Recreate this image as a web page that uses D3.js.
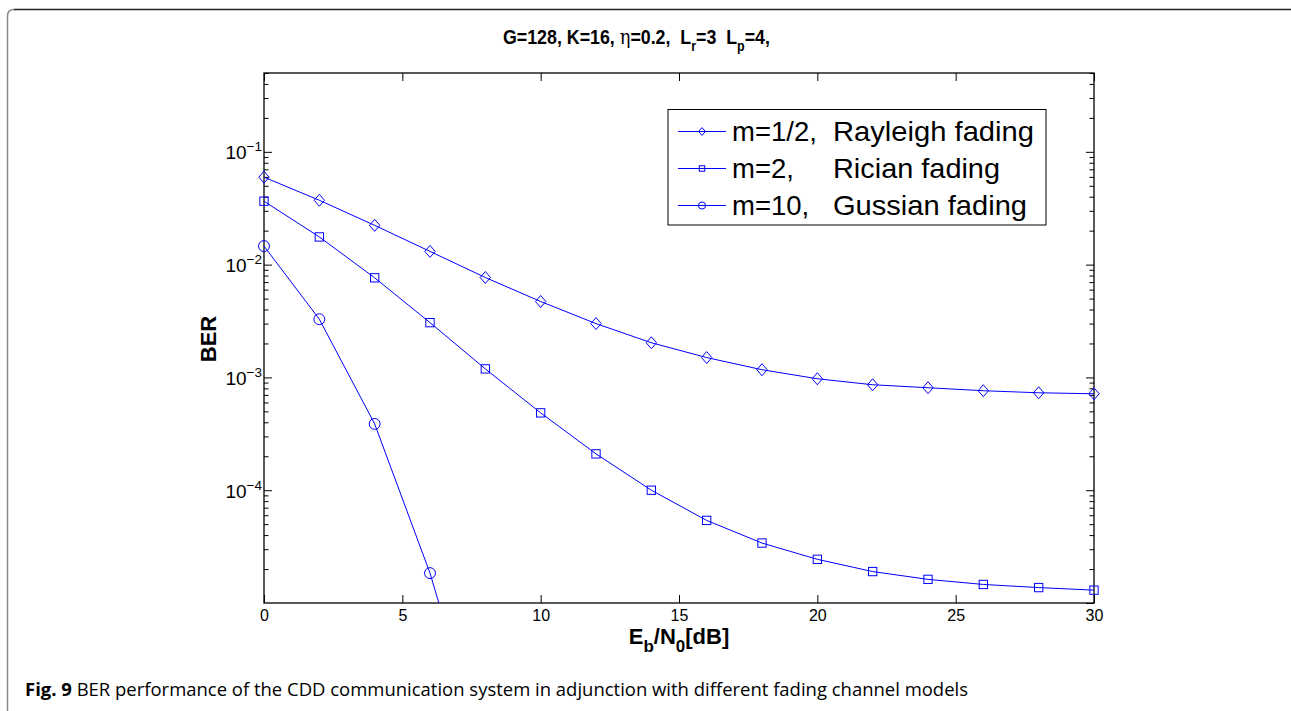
<!DOCTYPE html>
<html>
<head>
<meta charset="utf-8">
<title>BER vs Eb/N0</title>
<script src="https://cdn.jsdelivr.net/npm/d3@7/dist/d3.min.js"></script>
<style>
  body { margin: 0; background: #fff; }
  text { font-family: "Liberation Sans", Arial, Helvetica, sans-serif; }
</style>
</head>
<body>
<svg id="chart"></svg>
<script>
// data
const ebno = [0, 2, 4, 6, 8, 10, 12, 14, 16, 18, 20, 22, 24, 26, 28, 30];
const berRayleigh = [0.0596, 0.0372, 0.0223, 0.0131, 0.00769, 0.00471, 0.00300, 0.00203,
  0.00150, 0.00117, 0.000973, 0.000861, 0.000810, 0.000762, 0.000731, 0.000716];
const berRician = [0.0365, 0.0176, 0.00764, 0.00306, 0.00119, 0.000485, 0.000210, 0.000100,
  5.4e-5, 3.4e-5, 2.44e-5, 1.9e-5, 1.62e-5, 1.46e-5, 1.37e-5, 1.30e-5];
const berGaussian = [0.0146, 0.00328, 0.000387, 1.84e-5, 4.1e-7];
const legendParams = ['m=1/2,', 'm=2,', 'm=10,'];
const legendNames = ['Rayleigh fading', 'Rician fading', 'Gussian fading'];
const xTicks = [0, 5, 10, 15, 20, 25, 30];
const yDecades = [-1, -2, -3, -4];

const [width, height] = [1291, 711];
const plot = { left: 264, right: 1094, top: 73, bottom: 603 };
const blue = '#0000ff';

var svg = d3.select('#chart')
  .attr('width', width)
  .attr('height', height);

// page frame (rounded top-left corner)
svg.append('path')
  .attr('d', 'M7.5,711 V16 Q7.5,9.5 14,9.5')
  .attr('fill', 'none').attr('stroke', '#8a8a8a').attr('stroke-width', 1.5);
svg.append('path')
  .attr('d', 'M14,9.5 H1291')
  .attr('fill', 'none').attr('stroke', '#222').attr('stroke-width', 1.5);

var x = d3.scaleLinear().domain([0, 30]).range([plot.left, plot.right]);
var y = d3.scaleLog().domain([1e-5, 0.5]).range([plot.bottom, plot.top]);

var allTicks = y.ticks();
var isMajor = v => Math.abs(Math.log10(v) - Math.round(Math.log10(v))) < 1e-6;
var minorTicks = allTicks.filter(v => !isMajor(v));
var majorTicks = allTicks.filter(isMajor);

function styleAxis(g) {
  g.select('.domain').remove();
  g.selectAll('.tick line').attr('stroke', '#000').attr('stroke-width', 1);
  g.selectAll('.tick text').attr('fill', '#000');
}

// y ticks, left and right, pointing inward
svg.append('g').attr('transform', `translate(${plot.left},0)`)
  .call(d3.axisLeft(y).tickValues(minorTicks).tickSize(-4.5).tickFormat(''))
  .call(styleAxis);
svg.append('g').attr('transform', `translate(${plot.right},0)`)
  .call(d3.axisRight(y).tickValues(minorTicks).tickSize(-4.5).tickFormat(''))
  .call(styleAxis);
svg.append('g').attr('transform', `translate(${plot.right},0)`)
  .call(d3.axisRight(y).tickValues(majorTicks).tickSize(-8).tickFormat(''))
  .call(styleAxis);

var yAxis = svg.append('g').attr('transform', `translate(${plot.left},0)`)
  .call(d3.axisLeft(y).tickValues(yDecades.map(e => Math.pow(10, e))).tickSize(-8).tickPadding(2))
  .call(styleAxis);
yAxis.selectAll('.tick text').each(function(d) {
  var t = d3.select(this).text(null)
    .attr('font-size', 19).attr('dy', '0.36em');
  t.append('tspan').text('10');
  t.append('tspan').attr('dy', -8).attr('font-size', 13.5)
    .text('\u2212' + Math.abs(Math.round(Math.log10(d))));
});

// x ticks, bottom and top
svg.append('g').attr('transform', `translate(0,${plot.bottom})`)
  .call(d3.axisBottom(x).tickValues(xTicks).tickSize(-8).tickPadding(7))
  .call(styleAxis)
  .selectAll('.tick text').attr('font-size', 16);
svg.append('g').attr('transform', `translate(0,${plot.top})`)
  .call(d3.axisTop(x).tickValues(xTicks).tickSize(-8).tickFormat(''))
  .call(styleAxis);

// axes box
svg.append('rect')
  .attr('x', plot.left).attr('y', plot.top)
  .attr('width', plot.right - plot.left).attr('height', plot.bottom - plot.top)
  .attr('fill', 'none').attr('stroke', '#000').attr('stroke-width', 1.3);

svg.append('clipPath').attr('id', 'clip')
  .append('rect')
  .attr('x', plot.left - 8).attr('y', plot.top)
  .attr('width', plot.right - plot.left + 16).attr('height', plot.bottom - plot.top);

var series = [
  { values: berRayleigh, marker: 'diamond' },
  { values: berRician, marker: 'square' },
  { values: berGaussian, marker: 'circle' }
];

var line = d3.line()
  .x(d => x(d[0]))
  .y(d => y(d[1]));

function drawMarker(g, type, size) {
  if (type === 'diamond') {
    g.append('path')
      .attr('d', `M0,${-size * 1.15}L${size},0L0,${size * 1.15}L${-size},0Z`);
  } else if (type === 'square') {
    g.append('rect')
      .attr('x', -size * 0.8).attr('y', -size * 0.8)
      .attr('width', size * 1.6).attr('height', size * 1.6);
  } else {
    g.append('circle').attr('r', size * 1.05);
  }
  g.attr('fill', 'none').attr('stroke', blue).attr('stroke-width', 1);
}

var plotArea = svg.append('g').attr('clip-path', 'url(#clip)');
series.forEach(function(s) {
  var pts = s.values.map((v, i) => [ebno[i], v]);
  plotArea.append('path')
    .datum(pts)
    .attr('d', line)
    .attr('fill', 'none')
    .attr('stroke', blue)
    .attr('stroke-width', 1);
  plotArea.selectAll(null)
    .data(pts.filter(p => p[1] >= 1e-5))
    .enter()
    .append('g')
    .attr('transform', d => `translate(${x(d[0])},${y(d[1])})`)
    .each(function() { drawMarker(d3.select(this), s.marker, 5.2); });
});

// title (slightly condensed like the original)
var title = svg.append('text')
  .attr('transform', 'translate(503,44) scale(0.89,1)')
  .attr('font-size', 20).attr('font-weight', 'bold');
title.append('tspan').text('G=128, K=16, ');
title.append('tspan').attr('font-weight', 'normal').attr('font-family', 'DejaVu Serif').text('\u03b7');
title.append('tspan').text('=0.2,\u00a0\u00a0L');
title.append('tspan').attr('dy', 7).attr('font-size', 14).text('r');
title.append('tspan').attr('dy', -7).text('=3\u00a0\u00a0L');
title.append('tspan').attr('dy', 7).attr('font-size', 14).text('p');
title.append('tspan').attr('dy', -7).text('=4,');

// axis labels
var xl = svg.append('text')
  .attr('x', (plot.left + plot.right) / 2).attr('y', 644)
  .attr('text-anchor', 'middle')
  .attr('font-size', 22).attr('font-weight', 'bold');
xl.append('tspan').text('E');
xl.append('tspan').attr('dy', 8).attr('font-size', 17).text('b');
xl.append('tspan').attr('dy', -8).text('/N');
xl.append('tspan').attr('dy', 8).attr('font-size', 17).text('0');
xl.append('tspan').attr('dy', -8).text('[dB]');

svg.append('text')
  .attr('transform', `translate(216,${(plot.top + plot.bottom) / 2 + 1}) rotate(-90)`)
  .attr('text-anchor', 'middle')
  .attr('font-size', 22).attr('font-weight', 'bold')
  .text('BER');

// legend
var nameWidths = [201, 167, 194];
var legend = svg.append('g');
legend.append('rect')
  .attr('x', 668).attr('y', 109.5).attr('width', 378).attr('height', 115.5)
  .attr('fill', '#fff').attr('stroke', '#000').attr('stroke-width', 1);
var rows = legend.selectAll('g.row')
  .data(series)
  .enter()
  .append('g')
  .attr('class', 'row')
  .attr('transform', (d, i) => `translate(0,${131.5 + i * 37})`);
rows.append('line')
  .attr('x1', 678).attr('x2', 726)
  .attr('stroke', blue).attr('stroke-width', 1);
rows.append('g')
  .attr('transform', 'translate(702,0)')
  .each(function(d) { drawMarker(d3.select(this), d.marker, 3.4); });
rows.append('text')
  .attr('x', 732).attr('dy', '0.36em')
  .attr('font-size', 27.5)
  .text((d, i) => legendParams[i]);
rows.append('text')
  .attr('x', 833).attr('dy', '0.36em')
  .attr('font-size', 27.5)
  .attr('textLength', (d, i) => nameWidths[i]).attr('lengthAdjust', 'spacingAndGlyphs')
  .text((d, i) => legendNames[i]);

// caption
var cap = svg.append('text')
  .attr('x', 25).attr('y', 696)
  .attr('font-size', 18.5)
  .style('font-family', '"Open Sans", sans-serif')
  .attr('textLength', 943).attr('lengthAdjust', 'spacingAndGlyphs');
cap.append('tspan').attr('font-weight', 'bold').text('Fig. 9');
cap.append('tspan').text(' BER performance of the CDD communication system in adjunction with different fading channel models');
</script>
</body>
</html>
